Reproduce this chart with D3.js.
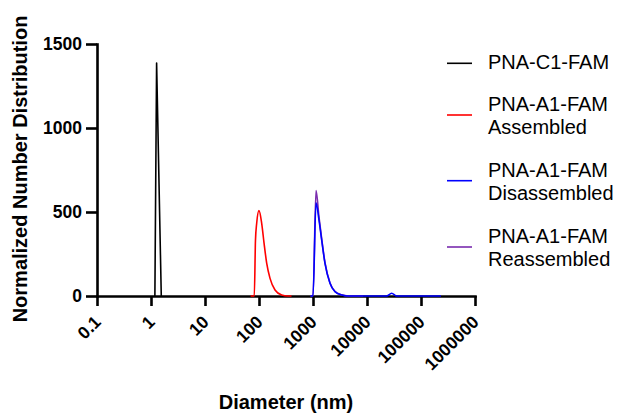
<!DOCTYPE html>
<html>
<head>
<meta charset="utf-8">
<script src="https://cdn.jsdelivr.net/npm/d3@7/dist/d3.min.js"></script>
<style>
  html, body { margin: 0; padding: 0; background: #fff; }
  svg { display: block; font-family: "Liberation Sans", Arial, sans-serif; }
</style>
</head>
<body>
<svg id="chart" width="620" height="415"></svg>
<script>
// Size distributions (diameter in nm, normalized number distribution)
const c1Diameter = [1.18, 1.27, 1.55];
const c1Number = [0, 1387, 0];

const assembledDiameter = [70, 81.8, 86, 90.6, 100, 112, 124, 139, 160, 198, 263, 344, 400];
const assembledNumber = [0, 0, 330, 433, 508, 434, 315, 194, 105, 36, 6, 0, 0];

const disassembledDiameter = [900, 1000, 1137, 1291, 1449, 1667, 2064, 2554, 3398, 4500, 20000, 23200, 28600, 35500, 45000, 234000];
const disassembledNumber = [0, 0, 555, 452, 333, 194, 76, 26, 6, 0, 0, 0, 16, 0, 0, 0];

const reassembledDiameter = [900, 1000, 1137, 1291, 1449, 1667, 2064, 2554, 3398, 4500, 8500];
const reassembledNumber = [0, 0, 627, 470, 340, 198, 78, 27, 7, 0, 0];

const seriesNames = ["PNA-C1-FAM", "PNA-A1-FAM\nAssembled", "PNA-A1-FAM\nDisassembled", "PNA-A1-FAM\nReassembled"];
const seriesColors = ["#000000", "#ff0000", "#0000ff", "#7a2cae"];

const xTicks = [0.1, 1, 10, 100, 1000, 10000, 100000, 1000000];
const yTicks = [0, 500, 1000, 1500];

const svg = d3.select("#chart");

const x = d3.scaleLog().domain([0.1, 1e6]).range([97, 475]);
const y = d3.scaleLinear().domain([0, 1500]).range([296, 44]);

// Axes
const xAxis = svg.append("g")
  .attr("transform", `translate(0,${y(0)})`)
  .call(d3.axisBottom(x).tickValues(xTicks).tickSize(10).tickSizeOuter(0).tickFormat(""));
const yAxis = svg.append("g")
  .attr("transform", `translate(${x(0.1)},0)`)
  .call(d3.axisLeft(y).tickValues(yTicks).tickSize(11).tickSizeOuter(0).tickFormat(""));

[xAxis, yAxis].forEach(g => {
  g.selectAll("path, line").attr("stroke", "#000").attr("stroke-width", 2.6);
  g.select(".domain").attr("stroke-linecap", "square");
});

// Y tick labels
svg.append("g").selectAll("text")
  .data(yTicks).join("text")
  .attr("x", 82)
  .attr("y", d => y(d))
  .attr("dy", "0.36em")
  .attr("text-anchor", "end")
  .attr("font-size", 17.5)
  .attr("font-weight", "bold")
  .text(d => d);

// X tick labels, rotated
svg.append("g").selectAll("text")
  .data(xTicks).join("text")
  .attr("transform", d => `translate(${x(d) + 5},323) rotate(-45)`)
  .attr("text-anchor", "end")
  .attr("font-size", 17.5)
  .attr("font-weight", "bold")
  .text(d => String(d));

// Axis titles
svg.append("text")
  .attr("x", 286).attr("y", 409)
  .attr("text-anchor", "middle")
  .attr("font-size", 20).attr("font-weight", "bold")
  .text("Diameter (nm)");

svg.append("text")
  .attr("transform", "translate(27,169) rotate(-90)")
  .attr("text-anchor", "middle")
  .attr("font-size", 20).attr("font-weight", "bold")
  .text("Normalized Number Distribution");

// Curves
const line = d3.line()
  .x(d => x(d[0]))
  .y(d => y(d[1]));

const zip = (a, b) => a.map((v, i) => [v, b[i]]);

const curves = [
  { pts: zip(c1Diameter, c1Number), color: seriesColors[0], linear: true },
  { pts: zip(assembledDiameter, assembledNumber), color: seriesColors[1] },
  { pts: zip(reassembledDiameter, reassembledNumber), color: seriesColors[3] },
  { pts: zip(disassembledDiameter, disassembledNumber), color: seriesColors[2] }
];

curves.forEach(c => {
  svg.append("path")
    .attr("d", line.curve(c.linear ? d3.curveLinear : d3.curveMonotoneX)(c.pts))
    .attr("fill", "none")
    .attr("stroke", c.color)
    .attr("stroke-width", 1.6)
    .attr("stroke-linejoin", "round");
});

// Legend
const legendLineY = [63.3, 115, 180.7, 247];
const legendBaselines = [[68.5], [111, 134], [176.7, 199.5], [243, 266]];

seriesNames.forEach((name, i) => {
  const g = svg.append("g");
  g.append("line")
    .attr("x1", 447).attr("x2", 472)
    .attr("y1", legendLineY[i]).attr("y2", legendLineY[i])
    .attr("stroke", seriesColors[i]).attr("stroke-width", 1.6);
  name.split("\n").forEach((part, j) => {
    g.append("text")
      .attr("x", 488).attr("y", legendBaselines[i][j])
      .attr("font-size", 20)
      .attr("fill", "#000")
      .text(part);
  });
});
</script>
</body>
</html>
